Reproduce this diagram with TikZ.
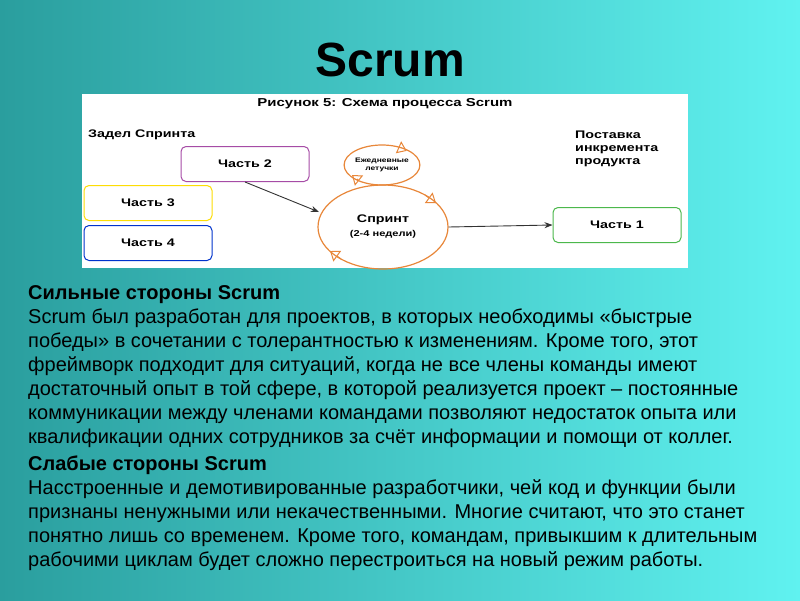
\documentclass[tikz,border=0pt]{standalone}
\usepackage{fontspec}
\setmainfont{Liberation Sans}
\usetikzlibrary{arrows.meta,shapes.geometric}
\definecolor{bgL}{HTML}{2A9E9E}
\definecolor{bgR}{HTML}{60F2F0}
\definecolor{orng}{HTML}{E8873A}
\newcommand{\wide}[1]{\scalebox{1.3}[1]{#1}}
\tikzset{
 part/.style={draw=#1, line width=1pt, rounded corners=5pt, fill=white, minimum width=128pt, minimum height=35pt, font=\fontsize{11}{13}\selectfont\bfseries},
 body/.style={anchor=base west, font=\fontsize{20}{22}\selectfont, inner sep=0pt},
 lbl/.style={font=\fontsize{11}{13}\selectfont\bfseries, align=left, inner sep=0pt},
 arr/.style={-{Stealth[length=8pt,width=6pt]}, line width=0.9pt, black!80},
 chev/.style={orng, line width=1pt, -{Triangle[open,length=9pt,width=13pt]}}
}
\begin{document}
\begin{tikzpicture}[x=1pt,y=-1pt]
\shade[left color=bgL,right color=bgR] (0,0) rectangle (800,600);
\useasboundingbox (0,0) rectangle (800,600);
\node (title) at (390,60) {\fontsize{48}{50}\selectfont\bfseries Scrum};
\fill[white] (82,94) rectangle (688,268);
\node (sub) at (385,104) {\fontsize{11.5}{13}\selectfont\bfseries\wide{Рисунок 5: Схема процесса Scrum}};
\node[lbl, anchor=west] (zad) at (88,135) {\wide{Задел Спринта}};
\node[part=violet!70] (p2) at (245,164) {\wide{Часть 2}};
\node[part=yellow!80!orange] (p3) at (148,203) {\wide{Часть 3}};
\node[part=blue!60!teal] (p4) at (148,243) {\wide{Часть 4}};
\node[part=green!60!black!70] (p1) at (617,225) {\wide{Часть 1}};
\node[lbl, anchor=north west] (post) at (575,131) {\wide{Поставка}\\\wide{инкремента}\\\wide{продукта}};
\node[draw=orng, line width=1.2pt, ellipse, minimum width=130pt, minimum height=84pt, align=center] (spr) at (383,227) {\fontsize{11}{14}\selectfont\bfseries\wide{Спринт}\\[2pt]\fontsize{8.5}{10}\selectfont\bfseries\wide{(2-4 недели)}};
\node[draw=orng, line width=1.2pt, ellipse, minimum width=70pt, minimum height=40pt, inner sep=0pt, align=center, font=\fontsize{6.5}{8}\selectfont\bfseries] (daily) at (382,165) {\wide{Ежедневные}\\\wide{летучки}};
\coordinate (c1) at (319,212);
\draw[arr] (p2.south) -- (c1);
\draw[arr] (spr.east) -- (p1.west);
\draw[chev] (425,195) -- (436,203);
\draw[chev] (341,259) -- (330,251);
\draw[chev] (399.5,147.7) -- (406.7,150.9);
\draw[chev] (357,179) -- (352,175);
\node[body] (h1) at (28,299) {\bfseries Сильные стороны Scrum};
\node[body] (l1) at (28,323) {Scrum был разработан для проектов, в которых необходимы «быстрые};
\node[body] (l2) at (28,347) {победы» в сочетании с толерантностью к изменениям. Кроме того, этот};
\node[body] (l3) at (28,371) {фреймворк подходит для ситуаций, когда не все члены команды имеют};
\node[body] (l4) at (28,395) {достаточный опыт в той сфере, в которой реализуется проект – постоянные};
\node[body] (l5) at (28,419) {коммуникации между членами командами позволяют недостаток опыта или};
\node[body] (l6) at (28,443) {квалификации одних сотрудников за счёт информации и помощи от коллег.};
\node[body] (h2) at (28,470) {\bfseries Слабые стороны Scrum};
\node[body] (m1) at (28,494) {Насстроенные и демотивированные разработчики, чей код и функции были};
\node[body] (m2) at (28,518) {признаны ненужными или некачественными. Многие считают, что это станет};
\node[body] (m3) at (28,542) {понятно лишь со временем. Кроме того, командам, привыкшим к длительным};
\node[body] (m4) at (28,566) {рабочими циклам будет сложно перестроиться на новый режим работы.};
\end{tikzpicture}
\end{document}
